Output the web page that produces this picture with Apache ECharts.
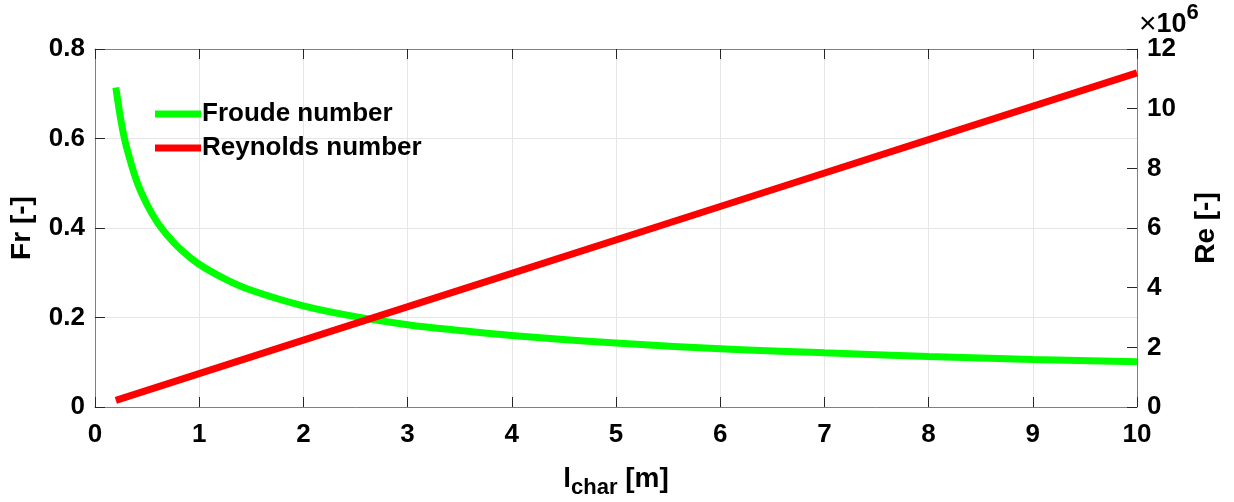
<!DOCTYPE html>
<html><head><meta charset="utf-8">
<script src="https://cdn.jsdelivr.net/npm/echarts@6/dist/echarts.min.js"></script>
<style>html,body{margin:0;padding:0;background:#fff}#c{width:1234px;height:502px}</style>
</head><body><div id="c"></div>
<script>
const lengths = [0.2, 0.25, 0.3, 0.4, 0.5, 0.6, 0.7, 0.8, 1, 1.25, 1.5, 2, 2.5, 3, 3.5, 4, 5, 6, 7, 8, 9, 10];
const froude = [0.714, 0.639, 0.583, 0.505, 0.452, 0.412, 0.382, 0.357, 0.319, 0.286, 0.261, 0.226, 0.202, 0.184, 0.171, 0.160, 0.143, 0.130, 0.121, 0.113, 0.106, 0.101];
const reLengths = [0.2, 2, 4, 6, 8, 10];
const reynolds = [0.224e6, 2.24e6, 4.48e6, 6.72e6, 8.96e6, 11.2e6];
const xTicks = [0, 1, 2, 3, 4, 5, 6, 7, 8, 9, 10];
const seriesNames = ['Froude number', 'Reynolds number'];

const font = 'Liberation Sans, Arial, sans-serif';
const axisGrey = '#808080';
const tickCol = '#262626';
const lbl = {color: '#000', fontFamily: font, fontWeight: 'bold', fontSize: 26};

const chart = echarts.init(document.getElementById('c'), null, {renderer: 'canvas'});
chart.setOption({
  animation: false,
  backgroundColor: '#fff',
  grid: {left: 95, right: 97, top: 49, bottom: 95, containLabel: false, outerBoundsMode: 'none'},
  legend: {
    data: seriesNames, orient: 'vertical', left: 150, top: 96, itemGap: 8,
    itemWidth: 46, itemHeight: 7, icon: 'rect',
    textStyle: Object.assign({}, lbl, {padding: [0, 0, 0, -4]})
  },
  xAxis: [{
    type: 'value', min: xTicks[0], max: xTicks[xTicks.length - 1], interval: 1,
    name: '{l|l}{s|char}{l| [m]}', nameLocation: 'middle', nameGap: 52,
    nameTextStyle: {rich: {
      l: {fontFamily: font, fontWeight: 'bold', fontSize: 28, color: '#000'},
      s: {fontFamily: font, fontWeight: 'bold', fontSize: 22, color: '#000', padding: [18, 0, 0, 0]}
    }},
    axisLine: {show: true, onZero: false, lineStyle: {color: axisGrey, width: 1}},
    axisTick: {show: true, inside: true, length: 10, lineStyle: {color: tickCol}},
    axisLabel: Object.assign({margin: 15}, lbl),
    splitLine: {show: true, lineStyle: {color: '#e6e6e6', width: 1}}
  }, {
    type: 'value', position: 'top', min: 0, max: 10, interval: 1,
    axisLine: {show: true, onZero: false, lineStyle: {color: axisGrey, width: 1}},
    axisTick: {show: true, inside: true, length: 10, lineStyle: {color: tickCol}},
    axisLabel: {show: false}, splitLine: {show: false}
  }],
  yAxis: [{
    type: 'value', min: 0, max: 0.8, interval: 0.2, position: 'left',
    name: 'Fr [-]', nameLocation: 'middle', nameGap: 59,
    nameTextStyle: Object.assign({}, lbl, {fontSize: 28}),
    axisLine: {show: true, onZero: false, lineStyle: {color: axisGrey, width: 1}},
    axisTick: {show: true, inside: true, length: 10, lineStyle: {color: tickCol}},
    axisLabel: Object.assign({margin: 10, formatter: v => v === 0 ? '0' : v.toFixed(1)}, lbl),
    splitLine: {show: true, lineStyle: {color: '#e6e6e6', width: 1}}
  }, {
    type: 'value', min: 0, max: 12e6, interval: 2e6, position: 'right',
    name: 'Re [-]', nameLocation: 'middle', nameGap: 55, nameRotate: 90,
    nameTextStyle: Object.assign({}, lbl, {fontSize: 28}),
    axisLine: {show: true, onZero: false, lineStyle: {color: axisGrey, width: 1}},
    axisTick: {show: true, inside: true, length: 10, lineStyle: {color: tickCol}},
    axisLabel: Object.assign({margin: 10, formatter: v => String(Math.round(v / 1e6))}, lbl),
    splitLine: {show: false}
  }],
  graphic: [{
    type: 'text', left: 1139, top: 2,
    style: {
      text: '{x|×}{t|10}{e|6}',
      rich: {
        x: {fontFamily: font, fontSize: 30, color: '#000', padding: [14, 0, 0, 0]},
        t: {fontFamily: font, fontWeight: 'bold', fontSize: 27, color: '#000', padding: [14, 0, 0, 0]},
        e: {fontFamily: font, fontWeight: 'bold', fontSize: 22, color: '#000', padding: [0, 0, 10, 0]}
      }
    }
  }],
  series: [{
    name: seriesNames[0], type: 'line', xAxisIndex: 0, yAxisIndex: 0,
    data: lengths.map((l, i) => [l, froude[i]]), smooth: 0.4, showSymbol: false,
    lineStyle: {color: '#00ff00', width: 7}, itemStyle: {color: '#00ff00'}, z: 3
  }, {
    name: seriesNames[1], type: 'line', xAxisIndex: 0, yAxisIndex: 1,
    data: reLengths.map((l, i) => [l, reynolds[i]]), showSymbol: false,
    lineStyle: {color: '#ff0000', width: 7}, itemStyle: {color: '#ff0000'}, z: 4
  }]
});
</script></body></html>
